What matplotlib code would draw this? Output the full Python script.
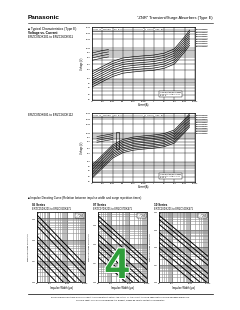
import matplotlib
matplotlib.use("Agg")
from matplotlib import pyplot as plt
from matplotlib import ticker
import matplotlib.patheffects as pe

plt.rcParams['font.family'] = ['Liberation Sans', 'DejaVu Sans']

# ---- V-I characteristics data ----
currents = [1e-6, 1e-5, 1e-4, 1e-3, 1e-2, 1e-1, 1, 10, 100, 1000, 3000]

vi_top = [
    [53, 80, 118, 152, 167, 179, 190, 219, 304, 760, 1254],
    [63, 94, 139, 179, 197, 211, 224, 258, 358, 896, 1478],
    [74, 111, 164, 211, 232, 248, 264, 304, 422, 1056, 1742],
    [87, 131, 193, 249, 274, 292, 311, 358, 498, 1244, 2053],
    [103, 154, 228, 294, 323, 345, 367, 422, 587, 1468, 2422],
    [121, 181, 268, 346, 380, 406, 432, 497, 691, 1728, 2851],
    [143, 214, 316, 407, 448, 478, 509, 585, 814, 2036, 3359],
    [168, 252, 372, 480, 528, 564, 600, 690, 960, 2400, 3960],
]
top_parts = ["ERZC05DK621", "ERZC05DK511", "ERZC05DK431", "ERZC05DK361",
             "ERZC05DK331", "ERZC05DK271", "ERZC05DK241", "ERZC05DK201"]
top_short_I = [1e-6, 1e-5, 4e-5]
top_short_V = [[400, 480, 520], [480, 580, 630], [580, 700, 760], [700, 840, 910]]

vi_bot = [
    [27, 60, 135, 210, 255, 279, 300, 336, 450, 1050, 1650],
    [31, 68, 154, 239, 291, 318, 342, 383, 513, 1197, 1881],
    [35, 78, 176, 273, 332, 363, 390, 437, 585, 1365, 2145],
    [40, 89, 200, 312, 378, 414, 445, 498, 668, 1558, 2448],
    [46, 101, 228, 355, 431, 472, 507, 568, 761, 1775, 2789],
    [52, 116, 260, 405, 491, 538, 578, 647, 867, 2023, 3179],
    [59, 132, 297, 462, 561, 614, 660, 739, 990, 2310, 3630],
    [68, 150, 338, 526, 639, 699, 752, 842, 1128, 2632, 4136],
    [77, 172, 386, 601, 729, 798, 858, 961, 1287, 3003, 4719],
]
bot_parts = ["ERZC05DK112", "ERZC05DK102", "ERZC05DK911", "ERZC05DK821",
             "ERZC05DK781", "ERZC05DK751", "ERZC05DK681", "ERZC05DK621",
             "ERZC05DK561"]
bot_short_I = [3e-6, 3e-5, 1e-4]
bot_short_V = [[480, 560, 600], [560, 650, 700], [650, 760, 820], [760, 880, 950]]
bracket_I = [2e-4, 4e-4]
bracket_V = [280, 1100]

x_tick_vals = [1e-6, 1e-5, 1e-4, 1e-3, 1e-2, 1e-1, 1, 10, 100, 1000, 10000]
x_tick_labels = ["1μ", "10μ", "100μ", "1m", "10m", "100m", "1", "10", "100", "1000", "10000"]
y_tick_vals = [20, 30, 50, 70, 100, 200, 300, 500, 700, 1000, 2000, 3000, 5000]

# ---- impulse derating data ----
width_us = [20, 10000]
rep_labels = ["1", "2", "10", "10²", "10³", "10⁴", "10⁵", "10⁶"]
derate_05 = [1450, 835, 438, 148, 76, 40, 19, 8.7]
derate_07 = [3200, 1900, 1000, 340, 175, 92, 45, 21]
derate_10 = [6500, 3800, 2000, 680, 350, 185, 90, 42]
end_ratio = 0.0045
series_titles = ["05 Series", "07 Series", "10 Series"]
series_parts = ["ERZC05DK201 to ERZC05DK471", "ERZC07DK201 to ERZC07DK471",
                "ERZC10DK201 to ERZC10DK471"]
series_ylim = [(1, 2000), (1, 5000), (1, 10000)]

fig = plt.figure(figsize=(2.4, 3.1), dpi=100)
fig.patch.set_facecolor("white")


def px_axes(x0, y0, x1, y1):
    return fig.add_axes([x0 / 240, 1 - y1 / 310, (x1 - x0) / 240, (y1 - y0) / 310])


def ftext(x, y, s, **kw):
    fig.text(x / 240, 1 - y / 310, s, **kw)


# header
ftext(28, 19, "Panasonic", fontsize=4.6, fontweight="bold", va="baseline")
ftext(213, 19.5, "“ZNR” Transient/Surge Absorbers (Type E)", fontsize=2.9,
      ha="right", va="baseline")
fig.add_artist(plt.Line2D([28 / 240, 213 / 240], [1 - 22.5 / 310, 1 - 22.5 / 310],
                          color="black", lw=0.4))
ftext(28, 30, "■ Typical Characteristics (Type E)", fontsize=2.3, va="baseline")
ftext(28, 34, "Voltage vs. Current", fontsize=2.3, fontweight="bold", va="baseline")
ftext(28, 38, "ERZC05DK201 to ERZC05DK911", fontsize=2.2, va="baseline")
ftext(28, 116, "ERZC05DK681 to ERZC05DK112", fontsize=2.2, va="baseline")


def vi_chart(ax, curves, parts, short_I, short_V):
    for v in curves:
        ax.plot(currents, v, color="black", lw=0.45)
    for v in short_V:
        ax.plot(short_I, v, color="black", lw=0.4)
    ax.set_xscale("log")
    ax.set_yscale("log")
    ax.set_xlim(1e-6, 1e4)
    ax.set_ylim(20, 5000)
    ax.set_xticks(x_tick_vals)
    ax.set_xticklabels(x_tick_labels)
    ax.xaxis.set_minor_locator(ticker.LogLocator(base=10, subs=(3,)))
    ax.set_yticks(y_tick_vals)
    ax.set_yticklabels([str(v) for v in y_tick_vals])
    ax.yaxis.set_minor_locator(ticker.LogLocator(base=10, subs=(2, 3, 4, 5, 6, 7, 8, 9)))
    ax.yaxis.set_minor_formatter(ticker.NullFormatter())
    ax.grid(True, which="both", color="black", lw=0.3)
    ax.tick_params(which="both", length=0, labelsize=1.6, pad=0.8)
    for sp in ax.spines.values():
        sp.set_linewidth(0.5)
    ax.set_xlabel("Current(A)", fontsize=1.8, labelpad=0.8)
    ax.set_ylabel("Voltage (V)", fontsize=1.8, labelpad=1)
    ax.axhline(3700, color="black", lw=0.4)
    ax.text(0.04, 0.975, "←  Ic : 1mA/DC  Area  →", transform=ax.transAxes,
            fontsize=1.5, va="top", bbox=dict(fc="white", ec="none", pad=0.2))
    ax.text(0.5, 0.975, "←  8/20μs  Area  →", transform=ax.transAxes,
            fontsize=1.5, va="top", bbox=dict(fc="white", ec="none", pad=0.2))
    for i, p in enumerate(parts):
        ax.text(1.01, 0.97 - i * 0.032, p, transform=ax.transAxes, fontsize=1.3,
                va="top", bbox=dict(fc="0.8", ec="none", pad=0.15))
    ax.text(0.66, 0.06, "Allowable tolerance range\nof varistor voltage: ±10%\nTa=25°C",
            transform=ax.transAxes, fontsize=1.4, linespacing=1.1,
            bbox=dict(fc="white", ec="black", lw=0.3, pad=0.8))


ax1 = px_axes(92, 27, 195, 100)
vi_chart(ax1, vi_top, top_parts, top_short_I, top_short_V)

ax2 = px_axes(92, 113, 195, 182)
vi_chart(ax2, vi_bot, bot_parts, bot_short_I, bot_short_V)
ax2.fill_between(bracket_I, bracket_V[0], bracket_V[1], facecolor="white",
                 edgecolor="black", lw=0.4)

# impulse derating
ftext(28, 199, "■ Impulse Derating Curve (Relation between impulse width and surge repetition times)",
      fontsize=2.1, va="baseline")

chart_px = [(37, 85), (98, 147), (159, 208)]
derate_sets = [derate_05, derate_07, derate_10]
for k in range(3):
    x0, x1 = chart_px[k]
    ftext(x0 - 5, 206, series_titles[k], fontsize=2.2, fontweight="bold", va="baseline")
    ftext(x0 - 5, 210, series_parts[k], fontsize=1.8, va="baseline")
    ax = px_axes(x0, 212, x1, 282)
    for lab, s in zip(rep_labels, derate_sets[k]):
        ax.plot(width_us, [s, s * end_ratio], color="black", lw=0.7)
        ax.text(22, s * 1.15, lab, fontsize=1.3, va="bottom")
    ax.set_xscale("log")
    ax.set_yscale("log")
    ax.set_xlim(20, 10000)
    ax.set_ylim(*series_ylim[k])
    ax.set_xticks([20, 100, 1000, 10000])
    ax.set_xticklabels(["20", "100", "1000", "10000"])
    ax.xaxis.set_minor_locator(ticker.LogLocator(base=10, subs=(2, 3, 4, 5, 6, 7, 8, 9)))
    ax.xaxis.set_minor_formatter(ticker.NullFormatter())
    ax.yaxis.set_minor_locator(ticker.LogLocator(base=10, subs=(2, 3, 4, 5, 6, 7, 8, 9)))
    ax.yaxis.set_minor_formatter(ticker.NullFormatter())
    ax.grid(True, which="major", color="0.35", lw=0.5)
    ax.grid(True, which="minor", color="0.55", lw=0.4)
    ax.tick_params(which="both", length=0, labelsize=1.6, pad=0.8)
    for sp in ax.spines.values():
        sp.set_linewidth(0.5)
    ax.set_xlabel("Impulse Width (μs)", fontsize=2.0, labelpad=1.4)
    ax.set_ylabel("Maximum Surge Current (A)", fontsize=1.6, labelpad=1)
    ax.text(0.97, 0.97, "—  8/20μs\n—  2ms\n—  10ms", transform=ax.transAxes,
            fontsize=1.3, ha="right", va="top", linespacing=1.1,
            bbox=dict(fc="white", ec="black", lw=0.3, pad=0.6))

# watermark
ftext(117, 278, "4", fontsize=31, fontweight="bold", color="#2f9e3a", ha="center",
      va="baseline", family=["Liberation Sans Narrow", "Liberation Sans"],
      path_effects=[pe.withStroke(linewidth=1.5, foreground="white")])

# footer
fig.add_artist(plt.Line2D([28 / 240, 213 / 240], [1 - 294 / 310, 1 - 294 / 310],
                          color="black", lw=0.5))
ftext(120, 298, "Design and specifications are each subject to change without notice. "
      "Ask factory for the current technical specifications before purchase and/or use.",
      fontsize=1.5, ha="center", va="baseline")
ftext(120, 300.5, "Should a safety concern arise regarding this product, "
      "please be sure to contact us immediately.",
      fontsize=1.5, ha="center", va="baseline")

fig.savefig("out.png", dpi=100)
